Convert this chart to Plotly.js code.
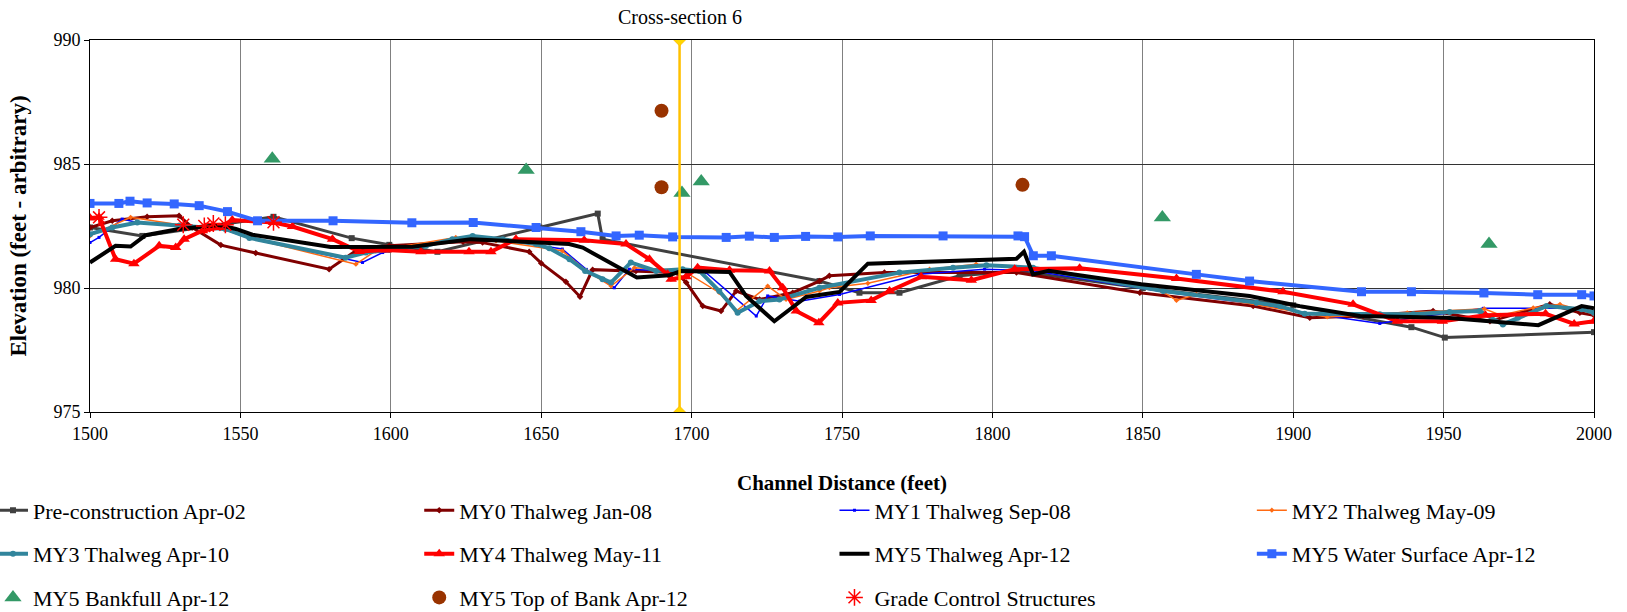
<!DOCTYPE html>
<html>
<head>
<meta charset="utf-8">
<script src="https://cdn.plot.ly/plotly-3.0.1.min.js"></script>
<style>html,body{margin:0;padding:0;background:#fff;}#chart{width:1627px;height:612px;}</style>
</head>
<body>
<div id="chart"></div>
<script>
// ---- data (channel distance in feet, elevation in feet) ----
const preX = [1500, 1517.4, 1561, 1587, 1599.5, 1615.5, 1649.4, 1668.8, 1670.4, 1742.5, 1755.8, 1769.1, 1789.1, 1808, 1850, 1900, 1939.3, 1950.4, 2000];
const preY = [982.44, 982.1, 982.87, 982.01, 981.74, 981.46, 982.44, 983.0, 981.97, 980.28, 979.81, 979.81, 980.49, 980.69, 980.0, 979.3, 978.42, 978.0, 978.22];

const my0X = [1500, 1507.4, 1519, 1529.6, 1534, 1543.5, 1555.1, 1579.5, 1589, 1599.5, 1624, 1630.5, 1646, 1650, 1658.2, 1662.9, 1667.1, 1681.5, 1695, 1698.2, 1703.7, 1709.8, 1714.8, 1722.6, 1733.6, 1742.5, 1745.8, 1764.1, 1808, 1849, 1886.7, 1905.5, 1923.2, 1946.5, 1965.4, 1985.3, 1995.3, 2000];
const my0Y = [982.44, 982.71, 982.87, 982.91, 982.44, 981.73, 981.41, 980.76, 981.55, 981.7, 981.86, 981.83, 981.46, 981.0, 980.25, 979.65, 980.74, 980.69, 980.62, 980.22, 979.27, 979.07, 979.88, 979.54, 979.81, 980.28, 980.49, 980.62, 980.62, 979.81, 979.27, 978.8, 978.87, 979.07, 978.66, 979.34, 979.0, 978.9];

const my1X = [1500, 1503, 1510.7, 1515.7, 1529.6, 1545, 1553, 1590.6, 1597.3, 1611.7, 1620.5, 1627.2, 1637.2, 1648.3, 1657, 1665, 1674.3, 1679.3, 1704.8, 1721.5, 1725.3, 1735.9, 1749.2, 1775.8, 1797.4, 1813.5, 1856.8, 1887.8, 1903.8, 1928.8, 1939.9, 1963.2, 1995.3, 2000];
const my1Y = [981.83, 982.04, 982.78, 982.64, 982.5, 982.35, 982.0, 981.03, 981.43, 981.72, 982.0, 982.08, 981.95, 981.75, 981.57, 980.75, 980.01, 980.76, 980.62, 978.87, 979.68, 979.47, 979.74, 980.55, 980.76, 980.7, 979.85, 979.35, 979.0, 978.57, 978.8, 979.18, 979.18, 978.95];

const my2X = [1500, 1513.5, 1529.6, 1545, 1553, 1588.4, 1595, 1621.6, 1635, 1657, 1665, 1673.2, 1681, 1697, 1709.2, 1714.8, 1725.3, 1731.4, 1742.5, 1745.8, 1758.6, 1779.1, 1794.6, 1813.5, 1856, 1861.2, 1867.8, 1911.3, 1937.9, 1963.5, 1969, 1979.8, 1988.7, 2000];
const my2Y = [982.1, 982.85, 982.55, 982.4, 982.02, 980.96, 981.5, 982.04, 981.9, 981.5, 980.7, 980.08, 980.82, 980.72, 979.81, 979.07, 980.08, 979.54, 979.88, 980.01, 980.19, 980.76, 980.96, 980.8, 979.9, 979.5, 979.74, 978.83, 979.0, 979.16, 978.9, 979.2, 979.34, 978.95];

const my3X = [1500, 1507.4, 1515.7, 1529.6, 1545, 1553, 1585, 1591.7, 1599.5, 1611.7, 1620.5, 1627.2, 1637.2, 1648.3, 1652.7, 1659.4, 1664.6, 1670.4, 1673.2, 1679.8, 1688.2, 1697, 1702.6, 1709.2, 1715.3, 1722.6, 1729.2, 1742.5, 1769.1, 1786.9, 1798, 1813.5, 1856.8, 1887.8, 1895.5, 1903.8, 1928.8, 1939.9, 1952, 1962, 1969.7, 1974.7, 1984.2, 1995.9, 2000];
const my3Y = [982.17, 982.44, 982.64, 982.51, 982.38, 982.02, 981.22, 981.43, 981.53, 981.7, 981.97, 982.1, 981.97, 981.77, 981.6, 981.16, 980.69, 980.35, 980.22, 981.03, 980.69, 980.76, 980.69, 979.88, 979.0, 979.47, 979.54, 980.01, 980.62, 980.82, 980.92, 980.82, 979.88, 979.41, 979.27, 978.96, 978.94, 978.94, 979.03, 979.07, 978.53, 978.8, 979.27, 979.14, 979.0];

const my4X = [1500, 1503, 1508.5, 1514.6, 1523, 1528.5, 1531.3, 1537.4, 1542.9, 1547.3, 1561, 1567.3, 1580.6, 1589.5, 1598.4, 1610, 1626, 1633.3, 1641.6, 1664.3, 1678.2, 1686, 1692, 1693.2, 1698.2, 1702, 1712.6, 1725.9, 1730.3, 1734.8, 1742.3, 1748.6, 1759.7, 1765.8, 1776.3, 1793, 1807.4, 1829, 1861.2, 1896.6, 1919.9, 1934.6, 1949.6, 1963.9, 1983.9, 1993.4, 2000];
const my4Y = [982.82, 982.85, 981.16, 980.98, 981.7, 981.63, 981.97, 982.31, 982.44, 982.74, 982.64, 982.48, 981.97, 981.47, 981.53, 981.46, 981.46, 981.46, 981.97, 981.93, 981.77, 981.16, 980.55, 980.35, 980.45, 980.82, 980.72, 980.69, 980.01, 979.07, 978.6, 979.4, 979.5, 979.88, 980.45, 980.31, 980.76, 980.8, 980.38, 979.85, 979.34, 978.66, 978.66, 978.9, 978.96, 978.55, 978.66];

const my5X = [1500, 1508.5, 1513.5, 1518.5, 1529.6, 1543, 1548.5, 1554, 1580, 1607.2, 1626.6, 1659.3, 1663.8, 1681.8, 1692.6, 1696.5, 1712.6, 1718.1, 1727.5, 1738.1, 1749.2, 1758.6, 1808, 1810.5, 1813.5, 1818.7, 1849.5, 1885.5, 1902.2, 1922.2, 1951, 1981.5, 1995.9, 2000];
const my5Y = [981.03, 981.7, 981.67, 982.13, 982.38, 982.54, 982.38, 982.15, 981.65, 981.66, 981.97, 981.77, 981.63, 980.42, 980.51, 980.69, 980.65, 979.68, 978.66, 979.64, 979.84, 980.98, 981.18, 981.46, 980.55, 980.69, 980.15, 979.68, 979.27, 978.87, 978.8, 978.5, 979.27, 979.18];

const wsX = [1500, 1509.6, 1513.3, 1519, 1528, 1536.3, 1545.7, 1555.7, 1580.8, 1607, 1627.4, 1648.3, 1663.2, 1674.9, 1682.6, 1693.7, 1711.5, 1719.2, 1727.5, 1737.9, 1748.6, 1759.4, 1783.6, 1808.5, 1810.7, 1813.6, 1819.6, 1867.8, 1885.5, 1922.7, 1939.3, 1963.4, 1981.3, 1995.9, 2000];
const wsY = [983.41, 983.41, 983.5, 983.43, 983.39, 983.32, 983.08, 982.71, 982.71, 982.63, 982.64, 982.44, 982.27, 982.1, 982.13, 982.06, 982.04, 982.09, 982.04, 982.08, 982.06, 982.1, 982.1, 982.1, 982.07, 981.3, 981.3, 980.55, 980.28, 979.85, 979.85, 979.8, 979.73, 979.73, 979.68];

const bkfX = [1560.6, 1645, 1696.8, 1703.2, 1856.5, 1965.1];
const bkfY = [985.21, 984.76, 983.83, 984.29, 982.84, 981.77];

const tobX = [1690, 1690, 1810];
const tobY = [987.15, 984.06, 984.16];

const gcsX = [1503, 1531, 1538, 1541, 1545, 1561];
const gcsY = [982.85, 982.55, 982.5, 982.6, 982.55, 982.65];

const xsecX = [1696, 1696];
const xsecY = [975, 990];
const xsecLabel = "Cross-section 6";

const xTicks = [1500, 1550, 1600, 1650, 1700, 1750, 1800, 1850, 1900, 1950, 2000];
const yTicks = [975, 980, 985, 990];

// ---- traces ----
const FONT = "Liberation Serif, Times New Roman, serif";
function line(name, x, y, color, width, sym, size, legend) {
  return {type: 'scatter', mode: 'lines+markers', name: name, x: x, y: y,
    line: {color: color, width: width},
    marker: {symbol: sym, size: size, color: color, line: {width: 0}},
    legend: legend, legendgroup: name};
}
function pts(name, x, y, marker, legend) {
  return {type: 'scatter', mode: 'markers', name: name, x: x, y: y, marker: marker,
    legend: legend, legendgroup: name};
}
const traces = [
  line('Pre-construction Apr-02', preX, preY, '#404040', 3, 'square', 6, 'legend'),
  line('MY0 Thalweg Jan-08', my0X, my0Y, '#800000', 3, 'diamond', 5, 'legend2'),
  line('MY1 Thalweg Sep-08', my1X, my1Y, '#0000FF', 1.5, 'square', 3, 'legend3'),
  line('MY2 Thalweg May-09', my2X, my2Y, '#FF6A13', 1.5, 'diamond', 4, 'legend4'),
  line('MY3 Thalweg Apr-10', my3X, my3Y, '#31859C', 4, 'circle', 6, 'legend'),
  line('MY4 Thalweg May-11', my4X, my4Y, '#FF0000', 4, 'triangle-up', 10, 'legend2'),
  {type: 'scatter', mode: 'lines', name: 'MY5 Thalweg Apr-12', x: my5X, y: my5Y,
    line: {color: '#000000', width: 4}, legend: 'legend3', legendgroup: 'my5'},
  line('MY5 Water Surface Apr-12', wsX, wsY, '#3366FF', 4, 'square', 9, 'legend4'),
  pts('MY5 Bankfull Apr-12', bkfX, bkfY, {symbol: 'triangle-up', size: 15, color: '#339966'}, 'legend'),
  pts('MY5 Top of Bank Apr-12', tobX, tobY, {symbol: 'circle', size: 14, color: '#993300'}, 'legend2'),
  pts('Grade Control Structures', gcsX, gcsY,
    {symbol: 'asterisk-open', size: 14, color: '#FF0000', line: {color: '#FF0000', width: 1.5}}, 'legend3'),
  {type: 'scatter', mode: 'lines+markers', name: xsecLabel, x: xsecX, y: xsecY, showlegend: false,
    line: {color: '#FFC000', width: 2.5},
    marker: {symbol: 'diamond', size: 9, color: '#FFD700', line: {color: '#FFC000', width: 1}}},
];

function legendCol(xPos) {
  return {orientation: 'v', x: xPos, xanchor: 'left', y: -0.208, yanchor: 'top',
    bgcolor: 'rgba(0,0,0,0)', traceorder: 'grouped', tracegroupgap: 12,
    font: {family: FONT, size: 22, color: '#000'}, itemwidth: 30};
}

const layout = {
  width: 1627, height: 612,
  margin: {l: 90, r: 33, t: 40, b: 200, autoexpand: false},
  paper_bgcolor: '#fff', plot_bgcolor: '#fff',
  font: {family: FONT, size: 18, color: '#000'},
  showlegend: true,
  xaxis: {range: [1500, 2000], tickvals: xTicks, ticktext: xTicks.map(String),
    showgrid: true, gridcolor: '#808080', gridwidth: 1, automargin: false,
    showline: true, linecolor: '#000', linewidth: 1, mirror: true,
    ticks: 'outside', ticklen: 5, tickcolor: '#000', zeroline: false,
    tickfont: {family: FONT, size: 18},
    title: {text: 'Channel Distance (feet)', font: {family: FONT, size: 21, weight: 'bold'}, standoff: 32}},
  yaxis: {range: [975, 990], tickvals: yTicks, ticktext: yTicks.map(String),
    showgrid: true, gridcolor: '#333333', gridwidth: 1, automargin: false,
    showline: true, linecolor: '#000', linewidth: 1, mirror: true,
    ticks: 'outside', ticklen: 5, tickcolor: '#000', zeroline: false,
    tickfont: {family: FONT, size: 18},
    title: {text: 'Elevation (feet - arbitrary)', font: {family: FONT, size: 23, weight: 'bold'}, standoff: 20}},
  legend: legendCol(-0.0645),
  legend2: legendCol(0.2189),
  legend3: legendCol(0.4950),
  legend4: legendCol(0.7725),
  annotations: [{x: xsecX[0], y: 1.062, xref: 'x', yref: 'paper', text: xsecLabel, showarrow: false,
    xanchor: 'center', yanchor: 'middle', font: {family: FONT, size: 20, color: '#000'}}],
};

Plotly.newPlot('chart', traces, layout, {displayModeBar: false, staticPlot: true});
</script>
</body>
</html>
